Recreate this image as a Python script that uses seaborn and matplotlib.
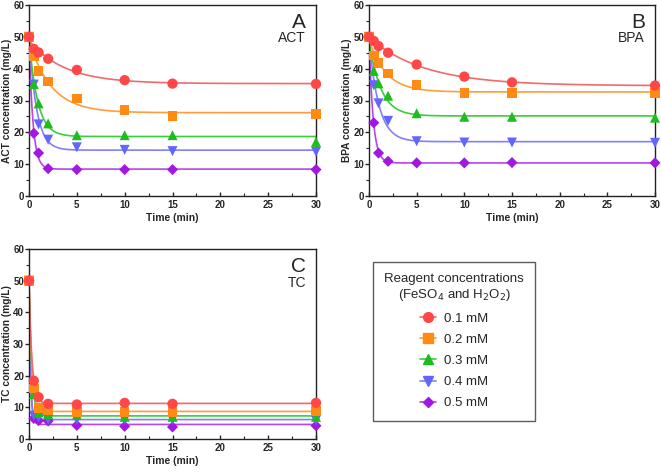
import numpy as np
import pandas as pd
import matplotlib
matplotlib.use("Agg")
import matplotlib.pyplot as plt
import seaborn as sns
from matplotlib.lines import Line2D
from matplotlib.ticker import MultipleLocator

sns.set_style("white")
plt.rcParams['font.family'] = ['Liberation Sans', 'DejaVu Sans']

time = [0, 0.5, 1, 2, 5, 10, 15, 30]
doses = ["0.1 mM", "0.2 mM", "0.3 mM", "0.4 mM", "0.5 mM"]

act_01 = [50, 46.2, 45.1, 43.1, 39.6, 36.4, 35.3, 35.2]
act_02 = [50, 44.0, 39.2, 36.0, 30.6, 27.0, 25.1, 25.7]
act_03 = [50, 35.2, 29.1, 22.8, 19.1, 19.1, 19.1, 17.0]
act_04 = [50, 35.0, 22.5, 17.7, 15.3, 14.5, 14.1, 13.9]
act_05 = [50, 19.7, 13.5, 8.6, 8.3, 8.3, 8.3, 8.3]

bpa_01 = [50, 48.7, 47.1, 45.0, 41.3, 37.5, 35.7, 34.7]
bpa_02 = [50, 44.1, 41.7, 38.5, 34.8, 32.4, 32.4, 32.4]
bpa_03 = [50, 39.3, 35.4, 31.5, 26.0, 24.9, 24.9, 24.6]
bpa_04 = [50, 34.8, 29.1, 23.6, 17.2, 16.8, 16.8, 16.7]
bpa_05 = [50, 23.0, 13.5, 10.9, 10.4, 10.4, 10.5, 10.4]

tc_01 = [50, 18.4, 13.2, 11.1, 10.9, 11.4, 11.1, 11.4]
tc_02 = [50, 15.9, 9.8, 9.0, 8.6, 8.6, 8.6, 8.9]
tc_03 = [50, 14.2, 8.4, 7.9, 7.6, 7.0, 7.0, 7.0]
tc_04 = [50, 7.4, 6.8, 6.1, 6.1, 6.0, 6.0, 5.9]
tc_05 = [50, 6.5, 5.8, 5.7, 4.3, 4.0, 3.8, 4.2]

panels = [
    ("A", "ACT", [act_01, act_02, act_03, act_04, act_05]),
    ("B", "BPA", [bpa_01, bpa_02, bpa_03, bpa_04, bpa_05]),
    ("C", "TC", [tc_01, tc_02, tc_03, tc_04, tc_05]),
]

marker_colors = ["#ff4747", "#ff8a14", "#1dbd1d", "#6464ff", "#a318e0"]
line_colors = ["#f26a6a", "#ff9d3d", "#3ccc3c", "#8080ff", "#b845ee"]
markers = ["o", "s", "^", "v", "D"]
msizes = [55, 48, 52, 52, 32]


def fit_exp(t, c):
    """Least-squares fit of c = a + b*exp(-k t) using a grid over k."""
    t = np.asarray(t, float)
    c = np.asarray(c, float)
    best = None
    for k in np.linspace(0.02, 12, 3000):
        X = np.column_stack([np.ones_like(t), np.exp(-k * t)])
        coef, *_ = np.linalg.lstsq(X, c, rcond=None)
        r = np.sum((X @ coef - c) ** 2)
        if best is None or r < best[0]:
            best = (r, k, coef)
    _, k, (a, b) = best
    tt = np.linspace(0, 30, 600)
    return tt, a + b * np.exp(-k * tt)


fig = plt.figure(figsize=(6.61, 4.72), dpi=100)
rects = [
    [29 / 661, 1 - 196 / 472, 287 / 661, 191 / 472],
    [369 / 661, 1 - 196 / 472, 286 / 661, 191 / 472],
    [29 / 661, 1 - 439 / 472, 287 / 661, 190 / 472],
]
name_y = [0.865, 0.865, 0.86]

for (letter, name, series), rect, ny in zip(panels, rects, name_y):
    ax = fig.add_axes(rect)
    order = list(range(5))[::-1]
    for i in order:
        tt, cc = fit_exp(time, series[i])
        fitdf = pd.DataFrame({"t": tt, "c": cc})
        sns.lineplot(data=fitdf, x="t", y="c", ax=ax, color=line_colors[i],
                     lw=1.2, zorder=2)
    for i in order:
        df = pd.DataFrame({"t": time, "c": series[i]})
        sns.scatterplot(data=df, x="t", y="c", ax=ax, marker=markers[i],
                        color=marker_colors[i], s=msizes[i], edgecolor="none",
                        linewidth=0, zorder=3 + (5 - i) * 0.01, clip_on=False)
    ax.set_xlim(0, 30)
    ax.set_ylim(0, 60)
    ax.xaxis.set_major_locator(MultipleLocator(5))
    ax.xaxis.set_minor_locator(MultipleLocator(2.5))
    ax.yaxis.set_major_locator(MultipleLocator(10))
    ax.yaxis.set_minor_locator(MultipleLocator(5))
    ax.tick_params(axis="x", which="major", direction="in", length=3, width=1,
                   labelsize=7, pad=3, bottom=True)
    ax.tick_params(axis="x", which="minor", direction="in", length=2, width=0.8,
                   bottom=True)
    ax.tick_params(axis="y", which="major", direction="out", length=3, width=1,
                   labelsize=7, pad=0.6, left=True)
    ax.tick_params(axis="y", which="minor", direction="out", length=2, width=0.8,
                   left=True)
    for lab in ax.get_xticklabels() + ax.get_yticklabels():
        lab.set_fontweight("bold")
    for sp in ax.spines.values():
        sp.set_color("#222222")
        sp.set_linewidth(1.0)
    ax.set_xlabel("Time (min)", fontsize=7.5, fontweight="bold", labelpad=2)
    ax.set_ylabel(f"{name} concentration (mg/L)", fontsize=7.3,
                  fontweight="bold", labelpad=0.8)
    ax.text(0.965, 0.96, letter, transform=ax.transAxes, ha="right",
            va="top", fontsize=15)
    ax.text(0.965, ny, name, transform=ax.transAxes, ha="right",
            va="top", fontsize=10)

handles = [
    Line2D([0], [0], color=line_colors[i], lw=1.2, marker=markers[i],
           markerfacecolor=marker_colors[i], markeredgecolor=marker_colors[i],
           markersize=7 if markers[i] != "D" else 5.5)
    for i in range(5)
]
leg = fig.legend(handles, doses,
                 title="Reagent concentrations\n(FeSO$_4$ and H$_2$O$_2$)",
                 loc="upper left", bbox_to_anchor=(373 / 661, 1 - 262 / 472),
                 frameon=True, fancybox=False, edgecolor="#333333",
                 fontsize=9.5, title_fontsize=9.5, handlelength=1.2,
                 handletextpad=0.55, labelspacing=0.68, borderpad=0.85,
                 borderaxespad=0)
leg.get_title().set_multialignment("center")
leg._legend_box.align = "center"
leg.get_frame().set_linewidth(1.0)

fig.savefig("out.png", dpi=100)
